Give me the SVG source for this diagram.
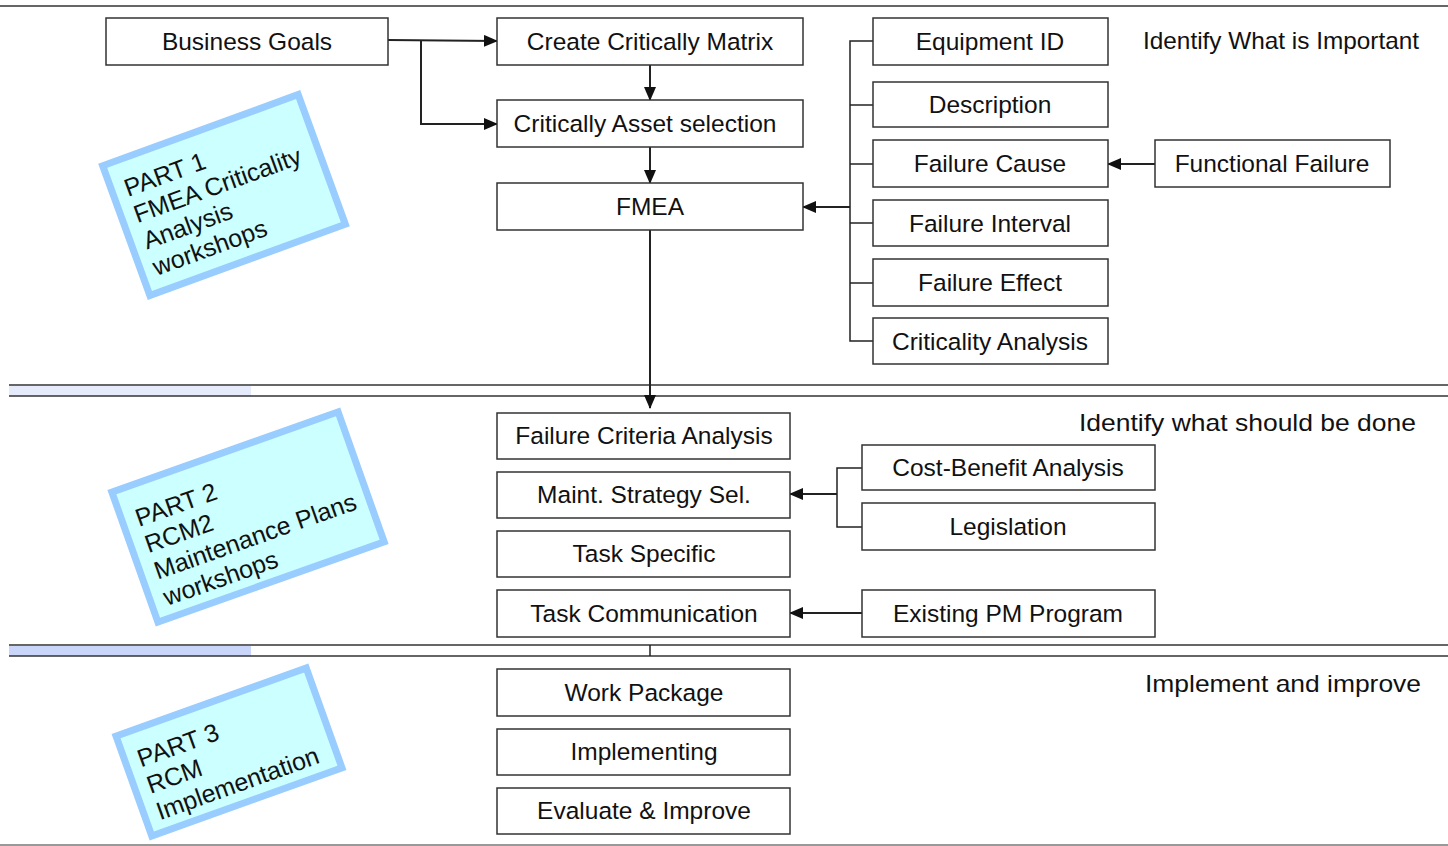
<svg xmlns="http://www.w3.org/2000/svg" width="1448" height="846" viewBox="0 0 1448 846">
<style>
.box{fill:#fff;stroke:#333;stroke-width:1.5}
.t{font-family:"Liberation Sans",Arial,sans-serif;font-size:24.5px;fill:#111;text-anchor:middle}
.lbl{font-family:"Liberation Sans",Arial,sans-serif;font-size:24px;fill:#111;text-anchor:end}
.pt{font-family:"Liberation Sans",Arial,sans-serif;font-size:25px;fill:#111}
.part{fill:#ccffff;stroke:#99ccff;stroke-width:7}
.c{fill:none;stroke:#222;stroke-width:2}
.b{fill:none;stroke:#222;stroke-width:1.5}
.sep{stroke:#333;stroke-width:1.5}
</style>
<defs>
<marker id="ah" markerWidth="14" markerHeight="12" refX="13" refY="6" orient="auto" markerUnits="userSpaceOnUse"><path d="M0,0 L14,6 L0,12 z" fill="#111"/></marker>
</defs>
<rect width="1448" height="846" fill="#fff"/>
<g id="frame">
<line x1="0" y1="6" x2="1448" y2="6" stroke="#666" stroke-width="2"/>
<line x1="0" y1="845" x2="1448" y2="845" stroke="#999" stroke-width="2"/>
<rect x="9" y="386" width="242" height="10" fill="#e6ebfc"/>
<line class="sep" x1="9" y1="385" x2="1448" y2="385"/>
<line class="sep" x1="9" y1="396" x2="1448" y2="396"/>
<rect x="9" y="646" width="242" height="10" fill="#c9d6fa"/>
<line class="sep" x1="9" y1="645" x2="1448" y2="645"/>
<line class="sep" x1="9" y1="656" x2="1448" y2="656"/>
</g>
<g id="part1" transform="translate(224,195) rotate(-20)">
<rect class="part" x="-104" y="-69" width="208" height="138"/>
<text class="pt" x="-91" y="-31">PART 1</text>
<text class="pt" x="-91" y="-3">FMEA Criticality</text>
<text class="pt" x="-91" y="25">Analysis</text>
<text class="pt" x="-91" y="53">workshops</text>
</g>
<g id="part2" transform="translate(248,517) rotate(-19.5)">
<rect class="part" x="-120" y="-69" width="240" height="138"/>
<text class="pt" x="-106" y="-27">PART 2</text>
<text class="pt" x="-106" y="1">RCM2</text>
<text class="pt" x="-106" y="29">Maintenance Plans</text>
<text class="pt" x="-106" y="57">workshops</text>
</g>
<g id="part3" transform="translate(229,752) rotate(-19.7)">
<rect class="part" x="-101" y="-53" width="202" height="106"/>
<text class="pt" x="-88" y="-15">PART 3</text>
<text class="pt" x="-88" y="13">RCM</text>
<text class="pt" x="-88" y="41">Implementation</text>
</g>
<g id="connectors">
<polyline class="c" points="388,40 497,41" marker-end="url(#ah)"/>
<polyline class="c" points="421,40 421,124 497,124" marker-end="url(#ah)"/>
<line class="c" x1="650" y1="65" x2="650" y2="100" marker-end="url(#ah)"/>
<line class="c" x1="650" y1="147" x2="650" y2="183" marker-end="url(#ah)"/>
<line class="c" x1="650" y1="230" x2="650" y2="408" marker-end="url(#ah)"/>
<polyline class="b" points="873,41 850,41 850,341 873,341"/>
<line class="b" x1="850" y1="105" x2="873" y2="105"/>
<line class="b" x1="850" y1="164" x2="873" y2="164"/>
<line class="b" x1="850" y1="223" x2="873" y2="223"/>
<line class="b" x1="850" y1="283" x2="873" y2="283"/>
<line class="c" x1="850" y1="207" x2="803" y2="207" marker-end="url(#ah)"/>
<line class="c" x1="1155" y1="164" x2="1108" y2="164" marker-end="url(#ah)"/>
<polyline class="b" points="862,468 837,468 837,527 862,527"/>
<line class="c" x1="837" y1="494" x2="790" y2="494" marker-end="url(#ah)"/>
<line class="c" x1="862" y1="613" x2="790" y2="613" marker-end="url(#ah)"/>
<line class="b" x1="650" y1="645" x2="650" y2="656"/>
</g>
<g id="n-business"><rect class="box" x="106" y="18" width="282" height="47"/><text class="t" x="247" y="50">Business Goals</text></g>
<g id="n-create"><rect class="box" x="497" y="18" width="306" height="47"/><text class="t" x="650" y="50">Create Critically Matrix</text></g>
<g id="n-asset"><rect class="box" x="497" y="100" width="306" height="47"/><text class="t" x="645" y="132">Critically Asset selection</text></g>
<g id="n-fmea"><rect class="box" x="497" y="183" width="306" height="47"/><text class="t" x="650" y="215">FMEA</text></g>
<g id="n-equip"><rect class="box" x="873" y="18" width="235" height="47"/><text class="t" x="990" y="50">Equipment ID</text></g>
<g id="n-desc"><rect class="box" x="873" y="82" width="235" height="45"/><text class="t" x="990" y="113">Description</text></g>
<g id="n-cause"><rect class="box" x="873" y="140" width="235" height="47"/><text class="t" x="990" y="172">Failure Cause</text></g>
<g id="n-interval"><rect class="box" x="873" y="200" width="235" height="46"/><text class="t" x="990" y="232">Failure Interval</text></g>
<g id="n-effect"><rect class="box" x="873" y="259" width="235" height="47"/><text class="t" x="990" y="291">Failure Effect</text></g>
<g id="n-crit"><rect class="box" x="873" y="318" width="235" height="46"/><text class="t" x="990" y="350">Criticality Analysis</text></g>
<g id="n-func"><rect class="box" x="1155" y="140" width="235" height="47"/><text class="t" x="1272" y="172">Functional Failure</text></g>
<g id="lbl1"><text class="lbl" x="1419" y="49" textLength="276" lengthAdjust="spacingAndGlyphs">Identify What is Important</text></g>
<g id="n-fca"><rect class="box" x="497" y="413" width="293" height="46"/><text class="t" x="644" y="444">Failure Criteria Analysis</text></g>
<g id="n-mss"><rect class="box" x="497" y="472" width="293" height="46"/><text class="t" x="644" y="503">Maint. Strategy Sel.</text></g>
<g id="n-ts"><rect class="box" x="497" y="531" width="293" height="46"/><text class="t" x="644" y="562">Task Specific</text></g>
<g id="n-tc"><rect class="box" x="497" y="590" width="293" height="47"/><text class="t" x="644" y="622">Task Communication</text></g>
<g id="n-cba"><rect class="box" x="862" y="445" width="293" height="45"/><text class="t" x="1008" y="476">Cost-Benefit Analysis</text></g>
<g id="n-leg"><rect class="box" x="862" y="503" width="293" height="47"/><text class="t" x="1008" y="535">Legislation</text></g>
<g id="n-pm"><rect class="box" x="862" y="590" width="293" height="47"/><text class="t" x="1008" y="622">Existing PM Program</text></g>
<g id="lbl2"><text class="lbl" x="1416" y="431" textLength="337" lengthAdjust="spacingAndGlyphs">Identify what should be done</text></g>
<g id="n-wp"><rect class="box" x="497" y="669" width="293" height="47"/><text class="t" x="644" y="701">Work Package</text></g>
<g id="n-impl"><rect class="box" x="497" y="729" width="293" height="46"/><text class="t" x="644" y="760">Implementing</text></g>
<g id="n-eval"><rect class="box" x="497" y="788" width="293" height="46"/><text class="t" x="644" y="819">Evaluate &amp; Improve</text></g>
<g id="lbl3"><text class="lbl" x="1421" y="692" textLength="276" lengthAdjust="spacingAndGlyphs">Implement and improve</text></g>
</svg>
